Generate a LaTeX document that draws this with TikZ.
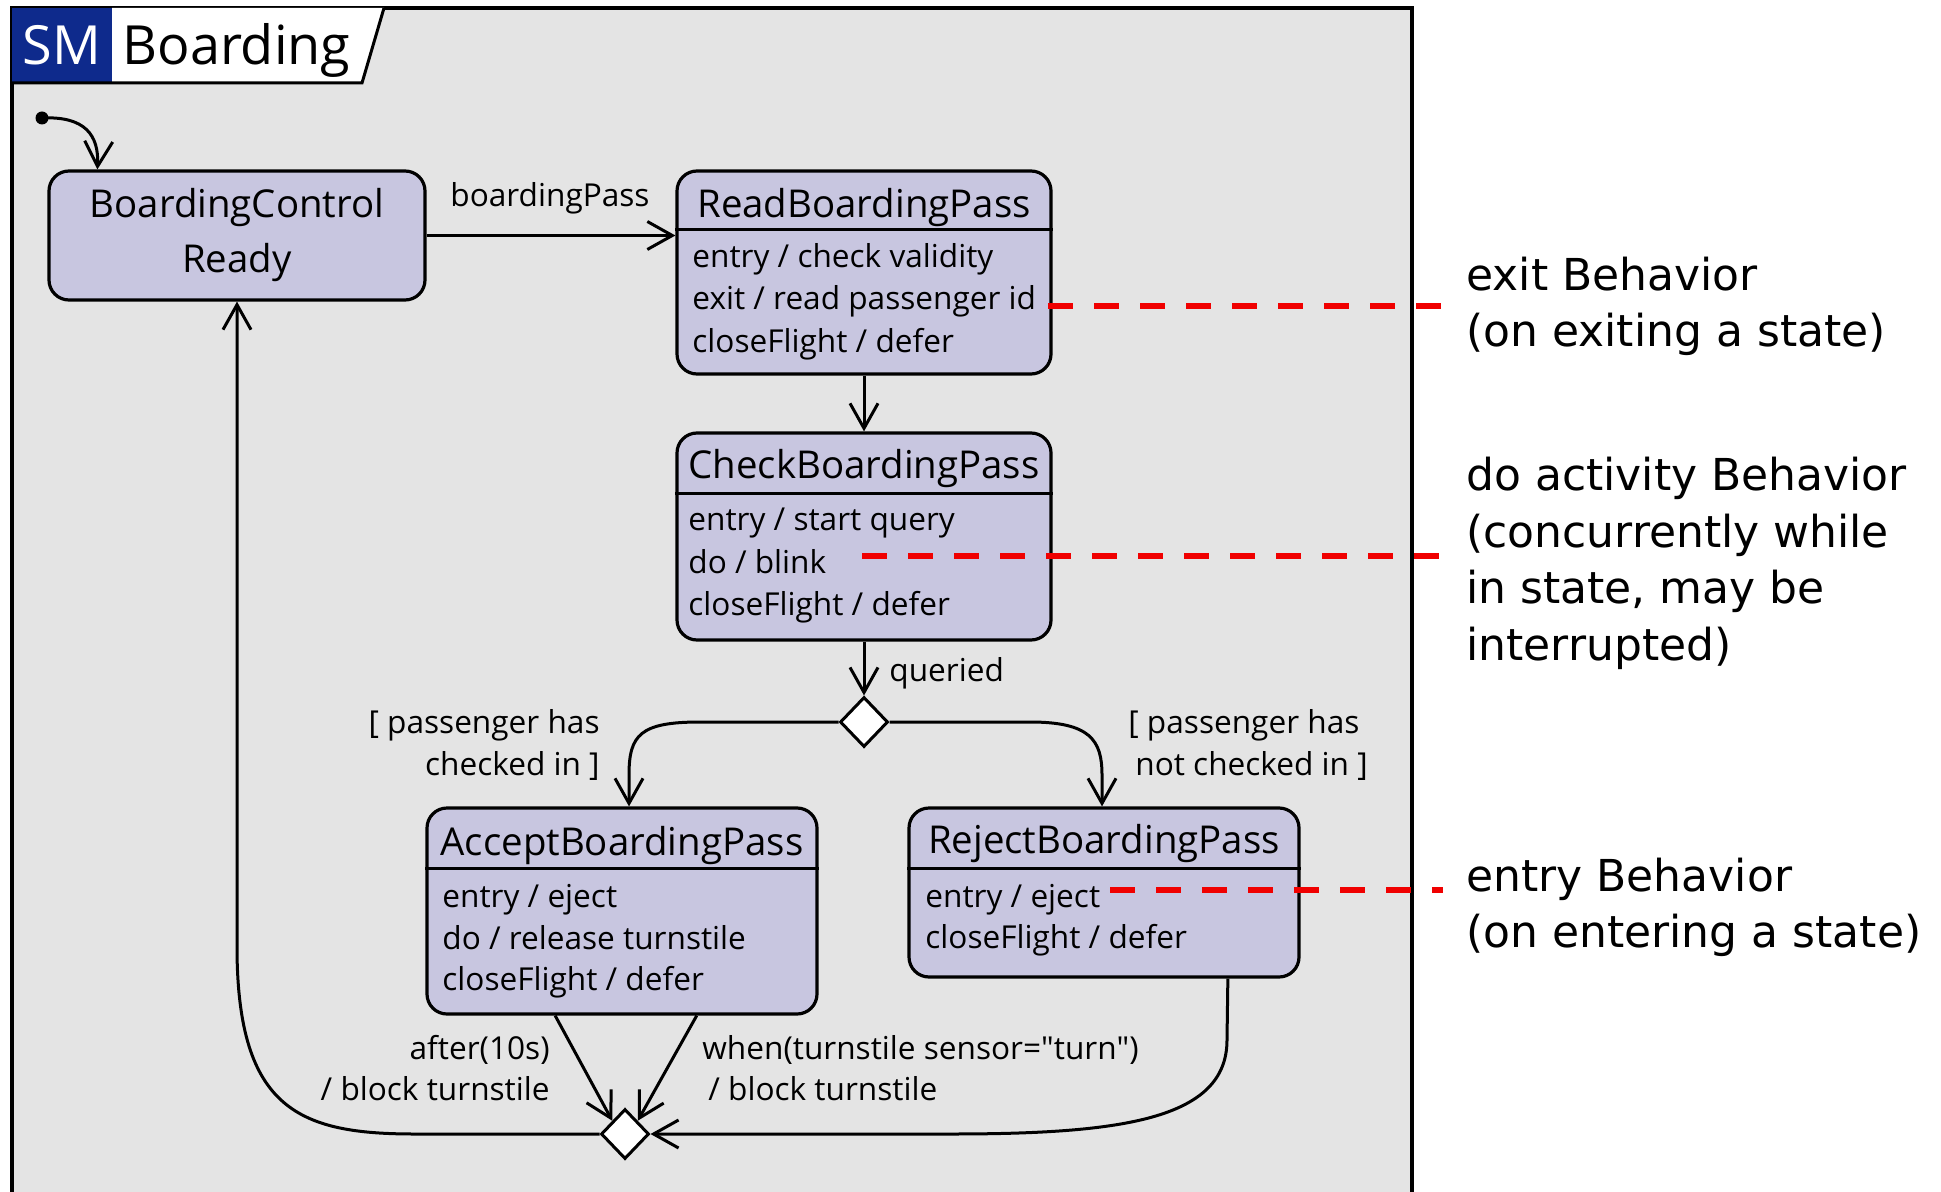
\documentclass[tikz,border=0pt]{standalone}
\usepackage{fontspec}
\setmainfont{Open Sans}
\newfontfamily\qfont{Open Sans}
\newfontfamily\annfont{DejaVu Sans}
\usetikzlibrary{arrows.meta,shapes.geometric,calc}
\definecolor{statefill}{RGB}{200,198,224}
\definecolor{framefill}{RGB}{228,228,228}
\definecolor{smblue}{RGB}{14,42,140}
\definecolor{notered}{RGB}{240,0,0}
\begin{document}
\begin{tikzpicture}[x=0.5pt,y=-0.5pt,
  state/.style={draw, line width=1.6pt, fill=statefill, rounded corners=10pt, inner sep=0pt},
  hdr/.style={line width=1.6pt},
  ttl/.style={font=\fontsize{19.2}{22}\selectfont, anchor=base, inner sep=0pt},
  body/.style={font=\fontsize{15.8}{21}\selectfont, anchor=base west, inner sep=0pt},
  lbl/.style={font=\fontsize{15.8}{21}\selectfont, inner sep=0pt},
  tr/.style={line width=1.5pt, -{Straight Barb[length=12.5pt,width=14pt]}},
  choice/.style={diamond, draw, fill=white, line width=1.5pt, minimum width=24pt, minimum height=25pt, inner sep=0pt},
  note/.style={draw=notered, line width=3pt, dash pattern=on 12.5pt off 10.5pt},
  ann/.style={font=\annfont\fontsize{22}{28}\selectfont, anchor=base west, inner sep=0pt}
]
\path[use as bounding box] (0,0) rectangle (1941,1192);
\fill[white] (0,0) rectangle (1941,1192);
\begin{scope}
\clip (0,0) rectangle (1941,1192);
\draw[line width=1.8pt, fill=framefill] (12,8) rectangle (1412,1220);
\end{scope}
% tab
\fill[smblue] (12,8) rectangle (112,83);
\fill[white] (112,8) -- (384,8) -- (362,83) -- (112,83) -- cycle;
\draw[line width=1.5pt] (12,83) -- (362,83) -- (384,8);
\node[font=\fontsize{27}{30}\selectfont, text=white, anchor=base, inner sep=0pt] (smlbl) at (62,65) {SM};
\node[font=\fontsize{27}{30}\selectfont, anchor=base west, inner sep=0pt] (smname) at (122,65) {Boarding};

% states
\node[state, minimum width=188pt, minimum height=64.5pt] (bcr) at (237,235.5) {};
\node[state, minimum width=187pt, minimum height=101.5pt] (read) at (864,272.5) {};
\node[state, minimum width=187pt, minimum height=103.5pt] (check) at (864,536.5) {};
\node[state, minimum width=195pt, minimum height=103pt] (acc) at (622,911) {};
\node[state, minimum width=195pt, minimum height=84.5pt] (rej) at (1104,892.5) {};
\node[choice] (d1) at (864,722) {};
\node[choice] (d2) at (625,1134) {};
\node[circle, fill=black, minimum size=6.5pt, inner sep=0pt] (init) at (42,118) {};

% compartment lines
\draw[hdr] ($(read.north west)+(0,60)$) -- ($(read.north east)+(0,60)$);
\draw[hdr] ($(check.north west)+(0,62)$) -- ($(check.north east)+(0,62)$);
\draw[hdr] ($(acc.north west)+(0,62)$) -- ($(acc.north east)+(0,62)$);
\draw[hdr] ($(rej.north west)+(0,62)$) -- ($(rej.north east)+(0,62)$);

% titles
\node[ttl] (bcrt1) at (237,218) {BoardingControl};
\node[ttl] (bcrt2) at (237,273) {Ready};
\node[ttl] (readt) at (864,218) {ReadBoardingPass};
\node[ttl] (checkt) at (864,478) {CheckBoardingPass};
\node[ttl] (acct) at (622,855) {AcceptBoardingPass};
\node[ttl] (rejt) at (1104,853) {RejectBoardingPass};

% internal behaviours
\node[body] (r1) at (692,268) {entry / check validity};
\node[body] (r2) at (692,310) {exit / read passenger id};
\node[body] (r3) at (692,352) {closeFlight / defer};
\node[body] (c1) at (688,530) {entry / start query};
\node[body] (c2) at (688,573) {do / blink};
\node[body] (c3) at (688,615) {closeFlight / defer};
\node[body] (a1) at (442,907) {entry / eject};
\node[body] (a2) at (442,949) {do / release turnstile};
\node[body] (a3) at (442,990) {closeFlight / defer};
\node[body] (j1) at (925,907) {entry / eject};
\node[body] (j2) at (925,948) {closeFlight / defer};

% transitions
\draw[tr] (init.center) .. controls (85,116) and (99,135) .. ($(bcr.north west)+(50,0)$);
\draw[tr] (bcr.east) -- (bcr.east -| read.west);
\draw[tr] (read.south) -- (check.north);
\draw[tr] (check.south) -- (d1.north);
\draw[tr] (d1.west) -- (700,722) .. controls (640,722) and (629,735) .. (629,775) -- ($(acc.north)+(7,0)$);
\draw[tr] (d1.east) -- (1030,722) .. controls (1090,722) and (1102,740) .. (1102,775) -- ($(rej.north)+(-2,0)$);
\draw[tr] ($(acc.south west)!0.33!(acc.south east)$) -- (d2.north west);
\draw[tr] ($(acc.south west)!0.69!(acc.south east)$) -- (d2.north east);
\draw[tr] ($(rej.south west)!0.815!(rej.south east)$) -- (1227,1040) .. controls (1227,1120) and (1120,1134) .. (950,1134) -- (d2.east);
\draw[tr] (d2.west) -- (415,1134) .. controls (300,1134) and (238,1110) .. (237,950) -- (bcr.south);

% transition labels
\node[lbl, anchor=base] (lbp) at (550,207) {boardingPass};
\node[lbl, anchor=base west] (lq) at (889,681) {queried};
\node[lbl, anchor=base east] (lg1) at (600,733) {[ passenger has};
\node[lbl, anchor=base east] (lg2) at (600,775) {checked in ]};
\node[lbl, anchor=base west] (lg3) at (1128,733) {[ passenger has};
\node[lbl, anchor=base west] (lg4) at (1135,775) {not checked in ]};
\node[lbl, anchor=base east] (la1) at (550,1059) {after(10s)};
\node[lbl, anchor=base east] (la2) at (550,1100) {/ block turnstile};
\node[lbl, anchor=base west] (lw1) at (702,1059) {when(turnstile sensor={\qfont"}turn{\qfont"})};
\node[lbl, anchor=base west] (lw2) at (708,1100) {/ block turnstile};

% annotation leaders
\coordinate (exS) at (1048,306);
\coordinate (exE) at (1443,306);
\coordinate (doS) at (862,556);
\coordinate (doE) at (1443,556);
\coordinate (enS) at (1110,890);
\coordinate (enE) at (1443,890);
\draw[note] (exS) -- (exE);
\draw[note] (doS) -- (doE);
\draw[note] (enS) -- (enE);

% annotations
\node[ann] (n1) at (1466,291) {exit Behavior};
\node[ann] (n2) at (1466,347) {(on exiting a state)};
\node[ann] (n3) at (1466,490) {do activity Behavior};
\node[ann] (n4) at (1466,547) {(concurrently while};
\node[ann] (n5) at (1466,603) {in state, may be};
\node[ann] (n6) at (1466,660) {interrupted)};
\node[ann] (n7) at (1466,891) {entry Behavior};
\node[ann] (n8) at (1466,947) {(on entering a state)};
\end{tikzpicture}
\end{document}
